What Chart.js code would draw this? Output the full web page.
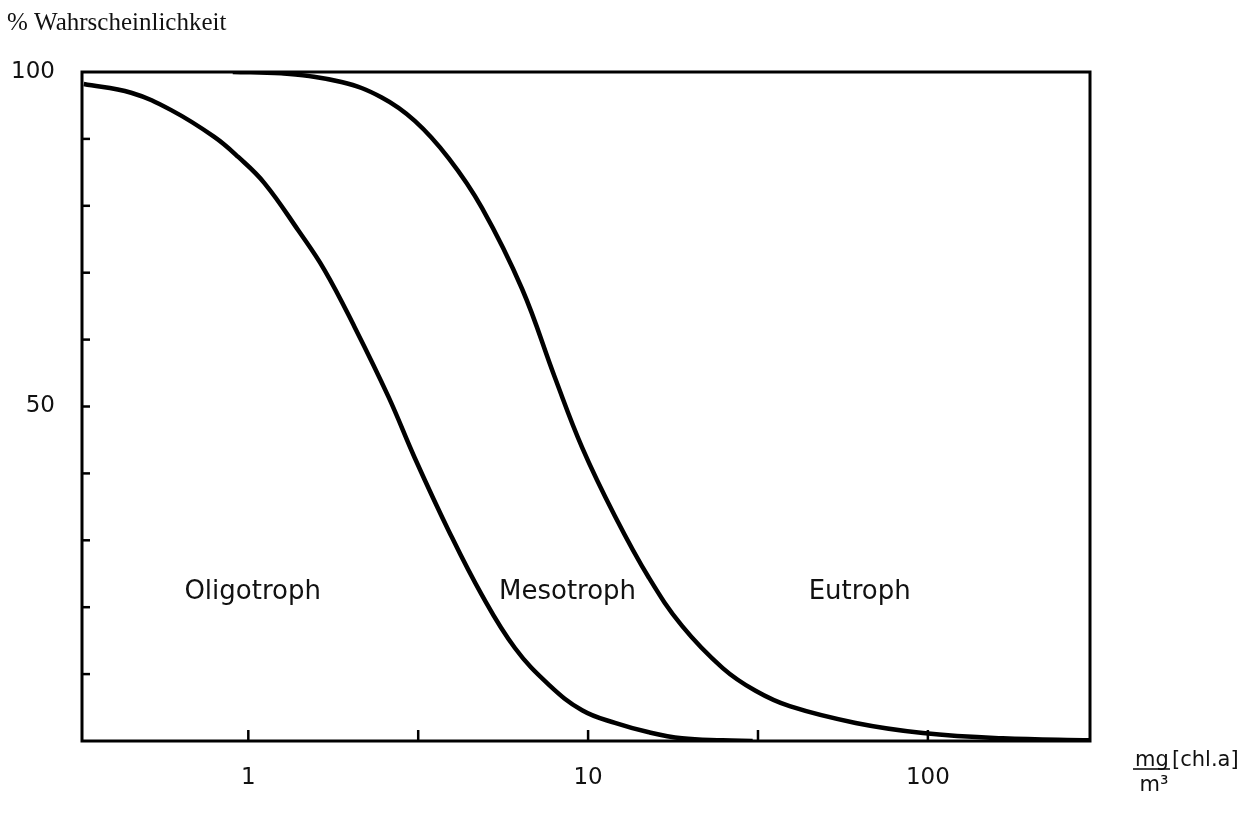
<!DOCTYPE html>
<html>
<head>
<meta charset="utf-8">
<script src="https://cdn.jsdelivr.net/npm/chart.js@4/dist/chart.umd.min.js"></script>
<style>
  html, body { margin: 0; padding: 0; background: #fff; }
  #wrap { width: 1256px; height: 816px; position: relative; }
</style>
</head>
<body>
<div id="wrap"><canvas id="chl" width="1256" height="816"></canvas></div>
<script>
// Werte (x: mg/m3 Chl a, y: % Wahrscheinlichkeit)
const oligoX = [0.328, 0.452, 0.593, 0.794, 0.934, 1.115, 1.404, 1.676, 2.054, 2.588, 3.09, 3.89, 4.87, 6.09, 7.67, 9.6, 12.0, 15.1, 18.9, 24.9, 30.5];
const oligoY = [98.2, 96.9, 94.3, 90.3, 87.3, 83.4, 76.3, 70.4, 61.9, 51.4, 42.3, 31.4, 21.8, 13.9, 8.4, 4.6, 2.7, 1.3, 0.4, 0.1, 0];

const mesoX = [0.9, 1.25, 1.88, 2.47, 3.09, 3.89, 4.87, 6.39, 7.99, 9.6, 12.0, 15.1, 18.9, 24.9, 31.1, 39.2, 61.3, 96.7, 166, 300];
const mesoY = [100, 99.8, 98.5, 96.2, 92.7, 87.1, 79.7, 67.6, 54.3, 43.9, 33.6, 24.4, 17.2, 10.9, 7.5, 5.2, 2.7, 1.2, 0.4, 0.1];

const xTicks = [1, 3.1623, 10, 31.623, 100];
const xLabels = ['1', '', '10', '', '100'];
const yTicks = [0, 10, 20, 30, 40, 50, 60, 70, 80, 90, 100];
const yLabels = ['', '', '', '', '', '50', '', '', '', '', '100'];

const zonen = ['Oligotroph', 'Mesotroph', 'Eutroph'];
const zonenX = [1.03, 8.7, 63];
const zonenY = [22.3, 22.3, 22.3];

const toPts = (xs, ys) => xs.map((x, i) => ({ x: x, y: ys[i] }));

// Rahmen, Teilstriche nach innen und Beschriftungen
const rahmen = {
  id: 'rahmen',
  afterDraw(chart) {
    const ctx = chart.ctx;
    const a = chart.chartArea;
    const sx = chart.scales.x, sy = chart.scales.y;
    ctx.save();
    ctx.strokeStyle = '#000';
    ctx.lineWidth = 3;
    ctx.strokeRect(a.left, a.top, a.right - a.left, a.bottom - a.top);

    ctx.lineWidth = 2.5;
    yTicks.forEach(v => {
      if (v === 0 || v === 100) return;
      const py = sy.getPixelForValue(v);
      ctx.beginPath(); ctx.moveTo(a.left, py); ctx.lineTo(a.left + 8, py); ctx.stroke();
    });
    xTicks.forEach(v => {
      const px = sx.getPixelForValue(v);
      ctx.beginPath(); ctx.moveTo(px, a.bottom); ctx.lineTo(px, a.bottom - 11); ctx.stroke();
    });

    ctx.fillStyle = '#111';
    ctx.font = '26px "DejaVu Sans"';
    ctx.textAlign = 'center';
    ctx.textBaseline = 'middle';
    zonen.forEach((t, i) => {
      ctx.fillText(t, sx.getPixelForValue(zonenX[i]), sy.getPixelForValue(zonenY[i]));
    });

    ctx.font = '25px "Liberation Serif"';
    ctx.textAlign = 'left';
    ctx.textBaseline = 'alphabetic';
    ctx.fillText('% Wahrscheinlichkeit', 7, 30);

    ctx.font = '21px "DejaVu Sans"';
    ctx.textAlign = 'center';
    ctx.fillText('mg', 1152, 766);
    ctx.textAlign = 'left';
    ctx.fillText('[chl.a]', 1172, 766);
    ctx.lineWidth = 1.5;
    ctx.beginPath(); ctx.moveTo(1133, 769); ctx.lineTo(1170, 769); ctx.stroke();
    ctx.textAlign = 'center';
    ctx.fillText('m\u00B3', 1154, 791);
    ctx.restore();
  }
};

const ctx = document.getElementById('chl').getContext('2d');
const chlChart = new Chart(ctx, {
  type: 'line',
  data: {
    datasets: [{
      label: 'Oligotroph / Mesotroph',
      data: toPts(oligoX, oligoY),
      borderColor: '#000',
      borderWidth: 4.5,
      pointRadius: 0,
      tension: 0.4,
      fill: false
    }, {
      label: 'Mesotroph / Eutroph',
      data: toPts(mesoX, mesoY),
      borderColor: '#000',
      borderWidth: 4.5,
      pointRadius: 0,
      tension: 0.4,
      fill: false
    }]
  },
  options: {
    responsive: false,
    animation: false,
    layout: { padding: { top: 72, right: 166, left: 0, bottom: 0 } },
    plugins: { legend: { display: false }, tooltip: { enabled: false } },
    scales: {
      x: {
        type: 'logarithmic',
        bounds: 'data',
        min: 0.324,
        max: 300,
        afterBuildTicks: s => { s.ticks = xTicks.map(v => ({ value: v })); },
        afterFit: s => { s.height = 75; },
        grid: { display: false, drawTicks: false },
        border: { display: false },
        ticks: {
          autoSkip: false,
          maxRotation: 0,
          padding: 23,
          color: '#111',
          font: { family: 'DejaVu Sans', size: 23 },
          callback: (v, i) => xLabels[i]
        }
      },
      y: {
        min: 0,
        max: 100,
        afterBuildTicks: s => { s.ticks = yTicks.map(v => ({ value: v })); },
        afterFit: s => { s.width = 82; },
        grid: { display: false, drawTicks: false },
        border: { display: false },
        ticks: {
          padding: 27,
          color: '#111',
          font: { family: 'DejaVu Sans', size: 23 },
          callback: (v, i) => yLabels[i]
        }
      }
    }
  },
  plugins: [rahmen]
});
</script>
</body>
</html>
